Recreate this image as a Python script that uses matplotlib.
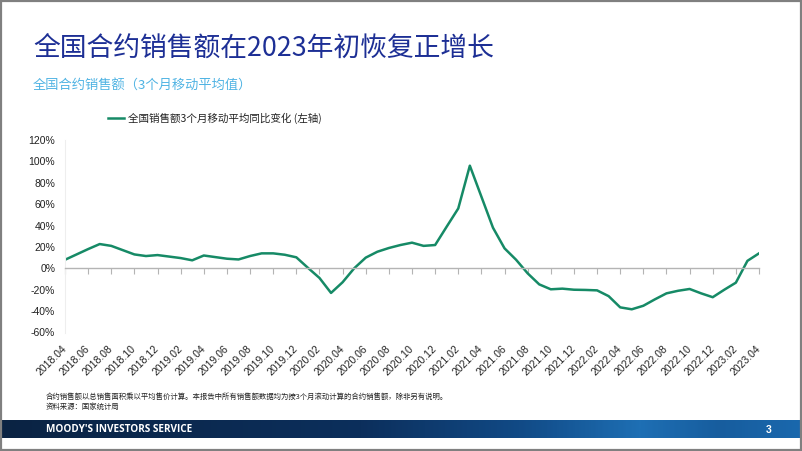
import matplotlib
matplotlib.use("Agg")
import matplotlib.pyplot as plt
import numpy as np
from matplotlib.patches import Rectangle
from matplotlib.colors import LinearSegmentedColormap
from matplotlib.ticker import FixedLocator, FuncFormatter

# ---------------- data ----------------
months = (["2018.%02d" % m for m in range(4, 13)] +
          ["2019.%02d" % m for m in range(1, 13)] +
          ["2020.%02d" % m for m in range(1, 13)] +
          ["2021.%02d" % m for m in range(1, 13)] +
          ["2022.%02d" % m for m in range(1, 13)] +
          ["2023.%02d" % m for m in range(1, 5)])

yoy_3mma = [8, 13, 18, 22.7, 21, 17, 13, 11.5, 12.4,
            11, 9.6, 7.5, 12, 10.5, 9, 8.3, 11.5, 14, 14, 12.7, 10.3,
            0.5, -9, -23, -13, 0, 10, 15.5, 19, 21.8, 24, 21, 21.8,
            39, 56, 96, 67, 38, 18.7, 8, -4.7, -15, -19.6, -19, -20,
            -20.2, -20.6, -26, -36.5, -38.3, -35, -29, -23.4, -21, -19.3, -23.4, -27,
            -20, -13.4, 7, 14]

y_ticks = [-60, -40, -20, 0, 20, 40, 60, 80, 100, 120]

title = "全国合约销售额在2023年初恢复正增长"
subtitle = "全国合约销售额（3个月移动平均值）"
series_name = "全国销售额3个月移动平均同比变化 (左轴)"
note1 = "合约销售额以总销售面积乘以平均售价计算。本报告中所有销售额数据均为按3个月滚动计算的合约销售额，除非另有说明。"
note2 = "资料来源：国家统计局"
footer = "MOODY'S INVESTORS SERVICE"
page = "3"

CJK = ["Noto Sans CJK SC", "DejaVu Sans"]
LAT = ["Liberation Sans", "Noto Sans CJK SC", "DejaVu Sans"]

W, H = 802, 451
fig = plt.figure(figsize=(W / 100, H / 100), dpi=100)
fig.patch.set_facecolor("white")

def fx(px):
    return px / W

def fy(py):
    return 1 - py / H

# ---------------- main axes ----------------
ax = fig.add_axes([fx(65), fy(332.5), fx(759) - fx(65), fy(140) - fy(332.5)])
x = np.arange(len(months))
line_color = "#168a66"
ax.plot(x, yoy_3mma, color=line_color, lw=1.8, label=series_name, solid_joinstyle="round")
ax.set_xlim(0, len(months) - 1)
ax.set_ylim(-60, 120)

for s in ["top", "right"]:
    ax.spines[s].set_visible(False)
ax.spines["left"].set_color("#eeeeee")
ax.spines["left"].set_linewidth(0.8)
ax.spines["bottom"].set_position(("data", 0))
ax.spines["bottom"].set_color("#b4b4b4")
ax.spines["bottom"].set_linewidth(1.0)

ax.yaxis.set_major_locator(FixedLocator(y_ticks))
ax.yaxis.set_major_formatter(FuncFormatter(lambda v, p: "%d%%" % v))
ax.tick_params(axis="y", length=0, pad=7, labelsize=7.5, labelcolor="#222222")
for lab in ax.get_yticklabels():
    lab.set_family(LAT)

xt = x[::2]
ax.set_xticks(xt)
ax.set_xticklabels([months[i] for i in xt])
ax.tick_params(axis="x", length=4, width=0.8, color="#b4b4b4", direction="out",
               pad=53, labelsize=7.5, labelcolor="#222222")
for lab in ax.get_xticklabels():
    lab.set_rotation(45)
    lab.set_ha("right")
    lab.set_va("center")
    lab.set_rotation_mode("anchor")
    lab.set_family(LAT)

leg = ax.legend(loc="center left", bbox_to_anchor=(fx(108), fy(118)),
                bbox_transform=fig.transFigure, frameon=False,
                handlelength=1.55, handletextpad=0.3, borderpad=0, borderaxespad=0,
                prop={"family": CJK, "size": 7.6})
for t in leg.get_texts():
    t.set_color("#222222")

# ---------------- texts ----------------
fig.text(fx(33), fy(48), title, family=CJK, fontsize=19.3, color="#1d2f95",
         ha="left", va="center")
fig.text(fx(33), fy(86), subtitle, family=CJK, fontsize=9.5, color="#4fb3e3",
         ha="left", va="center")
fig.text(fx(46), fy(397), note1, family=CJK, fontsize=5.3, color="#222222",
         ha="left", va="center")
fig.text(fx(46), fy(407), note2, family=CJK, fontsize=5.3, color="#222222",
         ha="left", va="center")

# ---------------- footer band ----------------
band = fig.add_axes([0, fy(438), 1, fy(420) - fy(438)])
cmap = LinearSegmentedColormap.from_list(
    "band", [(0.0, "#0a2343"), (0.45, "#0c2f5c"), (0.65, "#114a86"),
             (0.8, "#1e6fb4"), (0.9, "#175d9e"), (1.0, "#1a68ad")])
grad = np.linspace(0, 1, 400).reshape(1, -1)
band.imshow(grad, aspect="auto", cmap=cmap, extent=(0, 1, 0, 1))
band.set_xlim(0, 1)
band.set_ylim(0, 1)
band.axis("off")
fig.text(fx(46), fy(430), footer, family=["Open Sans", "DejaVu Sans"], fontsize=7.2,
         fontweight="bold", color="white", ha="left", va="center")
fig.text(fx(769), fy(430), page, family=LAT, fontsize=7.5, fontweight="bold",
         color="white", ha="center", va="center")

# ---------------- border ----------------
fig.patches.append(Rectangle((0.001, 0.002), 0.998, 0.996, transform=fig.transFigure,
                             fill=False, edgecolor="#808080", linewidth=1.6))

fig.savefig("out.png", dpi=100, facecolor="white")
